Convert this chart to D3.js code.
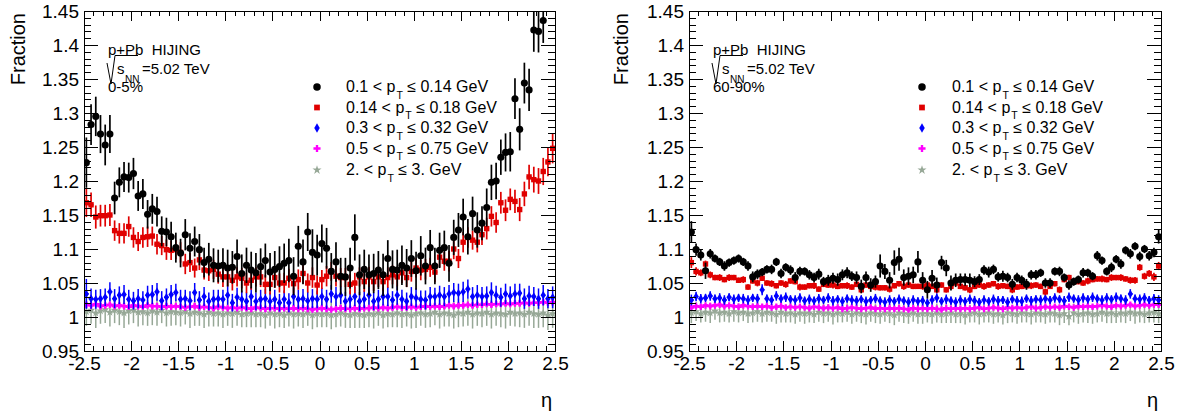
<!DOCTYPE html>
<html>
<head>
<meta charset="utf-8">
<script src="https://cdn.jsdelivr.net/npm/d3@7"></script>
<style>
  html, body { margin: 0; padding: 0; background: #fff; }
  svg { display: block; font-family: "Liberation Sans", Arial, Helvetica, sans-serif; }
  text { white-space: pre; }
</style>
</head>
<body>
<svg id="chart" width="1193" height="419"></svg>
<script>
// ---- binning and axis labels ----
const etaRange = [-2.5, 2.5];
const nBins = 100;
const fracRange = [0.95, 1.45];
const xTickValues = [-2.5, -2, -1.5, -1, -0.5, 0, 0.5, 1, 1.5, 2, 2.5];
const yTickValues = [0.95, 1, 1.05, 1.1, 1.15, 1.2, 1.25, 1.3, 1.35, 1.4, 1.45];
const ptLow = ["0.1", "0.14", "0.3", "0.5", "2."];
const ptHigh = ["0.14", "0.18", "0.32", "0.75", "3."];
const centralityLabels = ["0-5%", "60-90%"];

// ---- 0-5% centrality ----
const central_pt010 = [1.227,1.283,1.295,1.269,1.253,1.269,1.175,1.198,1.206,1.205,1.211,1.178,1.181,1.151,1.159,1.155,1.126,1.125,1.118,1.102,
1.094,1.121,1.101,1.111,1.099,1.080,1.085,1.076,1.075,1.076,1.072,1.073,1.089,1.064,1.076,1.069,1.065,1.074,1.083,1.066,
1.070,1.074,1.079,1.083,1.060,1.104,1.081,1.125,1.095,1.091,1.108,1.101,1.067,1.081,1.060,1.059,1.072,1.117,1.062,1.070,
1.062,1.064,1.069,1.062,1.086,1.070,1.069,1.076,1.072,1.086,1.068,1.090,1.075,1.102,1.075,1.098,1.102,1.079,1.117,1.128,
1.147,1.118,1.152,1.128,1.138,1.161,1.198,1.200,1.235,1.242,1.243,1.321,1.276,1.344,1.334,1.422,1.420,1.436,1.500,1.550];
const central_pt010_err = [0.037,0.030,0.029,0.028,0.030,0.028,0.024,0.022,0.022,0.022,0.023,0.022,0.022,0.021,0.022,0.022,0.022,0.021,0.022,0.022,
0.021,0.023,0.022,0.022,0.023,0.022,0.024,0.025,0.024,0.025,0.027,0.024,0.025,0.028,0.026,0.027,0.029,0.027,0.025,0.028,
0.027,0.030,0.029,0.032,0.028,0.030,0.033,0.028,0.034,0.030,0.028,0.030,0.027,0.029,0.027,0.028,0.030,0.034,0.030,0.029,
0.030,0.029,0.028,0.031,0.027,0.028,0.030,0.029,0.028,0.027,0.028,0.029,0.027,0.026,0.027,0.026,0.025,0.027,0.026,0.025,
0.027,0.026,0.025,0.026,0.025,0.028,0.026,0.027,0.026,0.028,0.029,0.030,0.031,0.030,0.031,0.032,0.031,0.033,0.035,0.038];

const central_pt014 = [1.168,1.165,1.147,1.149,1.149,1.150,1.127,1.123,1.123,1.133,1.117,1.111,1.117,1.118,1.119,1.107,1.105,1.099,1.098,1.099,
1.095,1.078,1.080,1.072,1.084,1.069,1.068,1.070,1.063,1.059,1.059,1.054,1.059,1.057,1.050,1.054,1.059,1.059,1.048,1.048,
1.058,1.050,1.050,1.057,1.049,1.055,1.064,1.050,1.058,1.047,1.055,1.060,1.067,1.060,1.058,1.058,1.048,1.050,1.059,1.052,
1.059,1.052,1.059,1.052,1.058,1.062,1.059,1.065,1.058,1.067,1.072,1.069,1.070,1.073,1.066,1.088,1.082,1.082,1.100,1.086,
1.110,1.117,1.113,1.110,1.121,1.130,1.148,1.139,1.168,1.157,1.173,1.170,1.158,1.181,1.206,1.202,1.200,1.214,1.228,1.248];
const central_pt014_err = [0.021,0.018,0.017,0.016,0.016,0.016,0.015,0.015,0.015,0.015,
0.015,0.014,0.015,0.015,0.014,0.015,0.014,0.015,0.014,0.014,0.015,0.015,0.014,0.014,0.015,0.014,0.015,0.014,0.014,0.015,
0.014,0.015,0.014,0.015,0.015,0.014,0.014,0.015,0.014,0.015,0.015,0.014,0.015,0.014,0.014,0.015,0.015,0.014,0.015,0.014,
0.014,0.015,0.014,0.015,0.014,0.014,0.015,0.015,0.014,0.015,0.015,0.014,0.015,0.014,0.015,0.014,0.014,0.015,0.014,0.015,
0.014,0.015,0.015,0.014,0.015,0.015,0.014,0.015,0.015,0.014,0.015,0.015,0.014,0.015,0.015,0.016,0.015,0.015,0.016,0.016,
0.016,0.017,0.017,0.018,0.018,0.019,0.019,0.020,0.021,0.022];

const central_pt030 = [1.034,1.027,1.026,1.027,1.029,1.037,1.027,1.032,1.033,1.026,1.024,1.027,1.025,1.032,1.033,1.037,1.024,1.029,1.033,1.036,
1.026,1.027,1.024,1.036,1.025,1.030,1.023,1.026,1.027,1.026,1.032,1.021,1.029,1.026,1.023,1.030,1.023,1.026,1.027,1.023,
1.026,1.021,1.026,1.021,1.030,1.026,1.027,1.024,1.027,1.026,1.030,1.026,1.034,1.030,1.032,1.023,1.026,1.030,1.023,1.026,
1.032,1.023,1.026,1.030,1.030,1.025,1.032,1.026,1.023,1.030,1.028,1.026,1.025,1.030,1.030,1.032,1.030,1.034,1.036,1.035,
1.037,1.041,1.030,1.032,1.030,1.031,1.036,1.032,1.029,1.034,1.031,1.034,1.035,1.027,1.031,1.030,1.027,1.032,1.027,1.029];
const central_pt030_err = [0.022,0.015,0.014,0.014,0.013,0.014,0.014,0.013,0.014,0.014,0.013,0.014,0.013,0.014,0.014,0.013,0.014,0.013,0.014,0.013,
0.014,0.013,0.014,0.014,0.013,0.014,0.013,0.014,0.013,0.014,0.014,0.013,0.014,0.013,0.013,0.014,0.013,0.014,0.014,0.013,
0.014,0.013,0.013,0.014,0.013,0.014,0.014,0.013,0.014,0.013,0.013,0.014,0.013,0.014,0.013,0.014,0.013,0.014,0.014,0.013,
0.014,0.013,0.014,0.013,0.014,0.013,0.014,0.014,0.013,0.014,0.014,0.013,0.014,0.014,0.013,0.014,0.014,0.013,0.014,0.014,
0.015,0.014,0.014,0.015,0.014,0.014,0.015,0.014,0.014,0.015,0.014,0.015,0.014,0.015,0.015,0.014,0.015,0.015,0.014,0.016];

const central_pt050 = [1.018,1.017,1.019,1.016,1.017,1.018,1.016,1.017,1.016,1.015,1.017,1.016,1.015,1.017,1.016,1.016,1.015,1.016,1.015,1.016,
1.015,1.014,1.015,1.016,1.014,1.015,1.014,1.013,1.015,1.014,1.013,1.014,1.013,1.014,1.013,1.012,1.014,1.013,1.012,1.013,
1.013,1.012,1.013,1.012,1.013,1.012,1.013,1.012,1.011,1.012,1.013,1.012,1.011,1.012,1.013,1.012,1.012,1.013,1.012,1.013,
1.013,1.014,1.013,1.014,1.013,1.014,1.015,1.014,1.014,1.015,1.014,1.015,1.016,1.015,1.016,1.015,1.016,1.017,1.016,1.017,
1.017,1.018,1.017,1.018,1.018,1.019,1.018,1.019,1.019,1.020,1.019,1.020,1.020,1.021,1.020,1.021,1.021,1.022,1.021,1.022];
const central_pt050_err = [0.004,0.004,0.003,0.004,0.004,0.004,0.003,0.004,0.004,0.004,0.004,0.003,0.004,0.004,0.004,0.004,0.003,0.004,0.004,0.003,
0.004,0.004,0.003,0.004,0.004,0.004,0.003,0.004,0.004,0.004,0.003,0.004,0.004,0.003,0.004,0.004,0.004,0.003,0.004,0.004,
0.004,0.003,0.004,0.004,0.004,0.003,0.004,0.004,0.003,0.004,0.004,0.004,0.003,0.004,0.004,0.003,0.004,0.004,0.004,0.003,
0.004,0.004,0.003,0.004,0.004,0.004,0.003,0.004,0.004,0.003,0.004,0.004,0.004,0.003,0.004,0.004,0.004,0.003,0.004,0.004,
0.004,0.003,0.004,0.004,0.004,0.003,0.004,0.004,0.004,0.004,0.003,0.004,0.004,0.004,0.004,0.003,0.004,0.004,0.004,0.005];

const central_pt200 = [1.008,1.010,1.006,1.009,1.011,1.007,1.010,1.008,1.006,1.009,1.010,1.007,1.008,1.006,1.009,1.007,1.010,1.006,1.008,1.007,
1.006,1.008,1.005,1.007,1.006,1.004,1.007,1.005,1.006,1.004,1.006,1.005,1.007,1.004,1.005,1.006,1.004,1.005,1.003,1.006,
1.004,1.005,1.003,1.006,1.004,1.005,1.004,1.006,1.003,1.005,1.004,1.005,1.003,1.004,1.006,1.004,1.003,1.005,1.004,1.003,
1.005,1.004,1.006,1.003,1.005,1.004,1.006,1.004,1.005,1.003,1.005,1.006,1.004,1.005,1.007,1.004,1.006,1.005,1.003,1.006,
1.005,1.007,1.004,1.006,1.005,1.007,1.004,1.006,1.005,1.004,1.007,1.005,1.006,1.004,1.007,1.005,1.004,1.006,1.003,1.005];
const central_pt200_err = [0.021,0.020,0.022,0.019,0.020,0.021,0.019,0.020,0.022,0.020,0.019,0.021,0.020,0.019,0.021,0.020,0.019,0.020,0.021,0.019,
0.020,0.019,0.021,0.020,0.019,0.020,0.021,0.019,0.020,0.020,0.019,0.021,0.020,0.019,0.020,0.021,0.019,0.020,0.020,0.019,
0.021,0.020,0.019,0.020,0.021,0.019,0.020,0.019,0.021,0.020,0.019,0.020,0.021,0.019,0.020,0.020,0.019,0.021,0.020,0.019,
0.020,0.021,0.019,0.020,0.020,0.019,0.021,0.020,0.019,0.020,0.021,0.019,0.020,0.020,0.019,0.021,0.020,0.019,0.020,0.021,
0.019,0.020,0.021,0.019,0.020,0.020,0.021,0.019,0.020,0.021,0.020,0.019,0.021,0.020,0.020,0.021,0.020,0.021,0.022,0.021];

// ---- 60-90% centrality ----
const periph_pt010 = [1.125,1.099,1.091,1.068,1.093,1.086,1.081,1.075,1.080,1.083,1.086,1.081,1.075,1.059,1.063,1.066,1.070,1.070,1.081,1.064,
1.073,1.069,1.058,1.067,1.067,1.062,1.058,1.063,1.052,1.054,1.057,1.055,1.062,1.065,1.060,1.058,1.045,1.058,1.047,1.052,
1.075,1.067,1.054,1.080,1.085,1.058,1.060,1.062,1.081,1.054,1.040,1.057,1.047,1.080,1.072,1.050,1.054,1.055,1.055,1.054,
1.052,1.055,1.069,1.066,1.070,1.059,1.060,1.058,1.048,1.058,1.054,1.048,1.062,1.062,1.065,1.050,1.050,1.067,1.067,1.058,
1.047,1.052,1.055,1.065,1.065,1.060,1.090,1.083,1.067,1.073,1.085,1.078,1.098,1.093,1.104,1.089,1.100,1.090,1.095,1.118];
const periph_pt010_err = [0.016,0.009,0.008,0.012,0.007,0.006,0.006,0.007,0.006,0.006,0.006,0.006,0.007,0.008,0.007,0.006,0.006,0.007,0.006,0.007,
0.006,0.007,0.008,0.007,0.006,0.007,0.007,0.008,0.007,0.008,0.008,0.009,0.008,0.008,0.007,0.009,0.010,0.009,0.010,0.009,
0.017,0.011,0.012,0.018,0.017,0.012,0.013,0.012,0.016,0.012,0.013,0.012,0.011,0.010,0.012,0.011,0.010,0.009,0.009,0.010,
0.008,0.008,0.007,0.008,0.007,0.007,0.008,0.007,0.008,0.007,0.007,0.008,0.007,0.007,0.006,0.007,0.007,0.006,0.007,0.006,
0.007,0.006,0.006,0.007,0.006,0.006,0.007,0.006,0.006,0.007,0.006,0.007,0.006,0.007,0.006,0.007,0.006,0.007,0.007,0.010];

const periph_pt014 = [1.080,1.067,1.065,1.078,1.062,1.058,1.058,1.055,1.058,1.058,1.054,1.055,1.044,1.053,1.050,1.057,1.050,1.049,1.046,1.050,
1.048,1.053,1.052,1.044,1.044,1.046,1.046,1.041,1.048,1.047,1.047,1.045,1.046,1.046,1.044,1.048,1.040,1.047,1.045,1.044,
1.043,1.043,1.041,1.046,1.049,1.045,1.047,1.045,1.045,1.045,1.047,1.045,1.040,1.047,1.040,1.045,1.050,1.045,1.043,1.040,
1.045,1.047,1.045,1.047,1.049,1.045,1.046,1.045,1.040,1.044,1.045,1.046,1.046,1.047,1.045,1.037,1.045,1.049,1.040,1.055,
1.058,1.052,1.052,1.050,1.053,1.055,1.056,1.056,1.055,1.058,1.058,1.058,1.056,1.054,1.054,1.073,1.060,1.064,1.059,1.075];
const periph_pt014_err = [0.008,0.006,0.005,0.005,0.005,0.004,0.005,0.004,0.005,0.004,0.004,0.005,0.004,0.004,0.005,0.004,0.004,0.005,0.004,0.004,
0.005,0.004,0.004,0.005,0.004,0.004,0.005,0.004,0.004,0.004,0.005,0.004,0.004,0.005,0.004,0.004,0.005,0.004,0.004,0.005,
0.004,0.004,0.005,0.004,0.004,0.005,0.004,0.004,0.004,0.005,0.004,0.004,0.005,0.004,0.004,0.005,0.004,0.004,0.004,0.005,
0.004,0.004,0.005,0.004,0.004,0.005,0.004,0.004,0.005,0.004,0.004,0.004,0.005,0.004,0.004,0.005,0.004,0.004,0.005,0.004,
0.004,0.005,0.004,0.004,0.005,0.004,0.004,0.005,0.004,0.005,0.004,0.005,0.004,0.005,0.005,0.005,0.005,0.005,0.006,0.006];

const periph_pt030 = [1.025,1.030,1.027,1.028,1.031,1.027,1.028,1.025,1.029,1.026,1.028,1.027,1.025,1.028,1.027,1.040,1.027,1.025,1.031,1.027,
1.029,1.026,1.025,1.028,1.024,1.026,1.024,1.027,1.025,1.028,1.024,1.026,1.023,1.027,1.025,1.024,1.026,1.023,1.025,1.027,
1.024,1.022,1.025,1.023,1.026,1.024,1.022,1.025,1.023,1.024,1.021,1.025,1.028,1.023,1.026,1.024,1.022,1.025,1.023,1.026,
1.024,1.022,1.025,1.023,1.026,1.024,1.025,1.022,1.026,1.024,1.023,1.027,1.024,1.026,1.025,1.027,1.025,1.028,1.026,1.024,
1.029,1.027,1.025,1.028,1.026,1.029,1.027,1.025,1.028,1.026,1.029,1.027,1.025,1.034,1.027,1.026,1.028,1.025,1.027,1.025];
const periph_pt030_err = [0.008,0.007,0.007,0.006,0.007,0.006,0.007,0.007,0.006,0.007,0.006,0.007,0.007,0.006,0.007,0.008,0.006,0.007,0.007,0.006,
0.007,0.006,0.007,0.007,0.006,0.007,0.006,0.007,0.006,0.007,0.007,0.006,0.007,0.006,0.007,0.007,0.006,0.007,0.006,0.007,
0.006,0.007,0.007,0.006,0.007,0.006,0.007,0.007,0.006,0.007,0.006,0.007,0.007,0.006,0.007,0.006,0.007,0.007,0.006,0.007,
0.007,0.006,0.007,0.006,0.007,0.007,0.006,0.007,0.006,0.007,0.007,0.006,0.007,0.006,0.007,0.007,0.006,0.007,0.006,0.007,
0.007,0.006,0.007,0.007,0.006,0.007,0.006,0.007,0.007,0.006,0.007,0.006,0.007,0.007,0.006,0.007,0.007,0.006,0.007,0.007];

const periph_pt050 = [1.014,1.016,1.015,1.017,1.016,1.017,1.018,1.016,1.017,1.016,1.015,1.017,1.016,1.015,1.016,1.015,1.016,1.014,1.015,1.016,
1.014,1.015,1.014,1.015,1.014,1.013,1.015,1.014,1.013,1.014,1.013,1.014,1.012,1.013,1.014,1.013,1.012,1.013,1.014,1.012,
1.013,1.012,1.013,1.012,1.013,1.012,1.011,1.013,1.012,1.013,1.012,1.013,1.012,1.011,1.013,1.012,1.013,1.012,1.013,1.012,
1.013,1.014,1.012,1.013,1.014,1.013,1.012,1.014,1.013,1.014,1.013,1.014,1.015,1.013,1.014,1.015,1.014,1.015,1.014,1.016,
1.015,1.014,1.016,1.015,1.016,1.015,1.016,1.017,1.016,1.015,1.017,1.016,1.017,1.018,1.016,1.017,1.018,1.017,1.018,1.018];
const periph_pt050_err = [0.003,0.003,0.003,0.002,0.003,0.003,0.003,0.003,0.002,0.003,0.003,0.003,0.002,0.003,0.003,0.003,0.003,0.002,0.003,0.003,
0.003,0.002,0.003,0.003,0.003,0.003,0.002,0.003,0.003,0.003,0.003,0.002,0.003,0.003,0.003,0.002,0.003,0.003,0.003,0.003,
0.002,0.003,0.003,0.003,0.003,0.002,0.003,0.003,0.003,0.002,0.003,0.003,0.003,0.003,0.002,0.003,0.003,0.003,0.002,0.003,
0.003,0.003,0.003,0.002,0.003,0.003,0.003,0.002,0.003,0.003,0.003,0.003,0.002,0.003,0.003,0.003,0.002,0.003,0.003,0.003,
0.003,0.002,0.003,0.003,0.003,0.003,0.002,0.003,0.003,0.003,0.002,0.003,0.003,0.003,0.003,0.002,0.003,0.003,0.003,0.003];

const periph_pt200 = [1.006,1.008,1.005,1.007,1.006,1.009,1.006,1.007,1.005,1.008,1.006,1.007,1.005,1.006,1.008,1.005,1.007,1.006,1.004,1.007,
1.005,1.006,1.004,1.006,1.005,1.006,1.004,1.007,1.005,1.006,1.004,1.006,1.005,1.007,1.004,1.006,1.005,1.004,1.006,1.005,
1.004,1.006,1.005,1.003,1.006,1.005,1.004,1.006,1.004,1.005,1.005,1.004,1.006,1.004,1.005,1.006,1.004,1.005,1.003,1.005,
1.006,1.004,1.005,1.006,1.004,1.005,1.003,1.006,1.005,1.004,1.006,1.005,1.004,1.006,1.005,1.004,1.006,1.005,1.003,1.005,
1.001,1.006,1.004,1.005,1.006,1.004,1.005,1.007,1.005,1.006,1.004,1.006,1.005,1.007,1.005,1.006,1.004,1.006,1.007,1.005];
const periph_pt200_err = [0.015,0.014,0.013,0.014,0.015,0.013,0.014,0.014,0.013,0.015,0.014,0.013,0.014,0.014,0.015,0.013,0.014,0.013,0.014,0.015,
0.013,0.014,0.014,0.013,0.015,0.014,0.013,0.014,0.014,0.013,0.015,0.014,0.013,0.014,0.014,0.013,0.014,0.015,0.013,0.014,
0.014,0.013,0.014,0.015,0.013,0.014,0.014,0.013,0.014,0.015,0.013,0.014,0.014,0.013,0.014,0.015,0.013,0.014,0.014,0.013,
0.014,0.015,0.013,0.014,0.014,0.013,0.014,0.015,0.013,0.014,0.014,0.013,0.015,0.014,0.013,0.014,0.014,0.013,0.015,0.014,
0.013,0.014,0.014,0.013,0.015,0.014,0.013,0.014,0.014,0.015,0.013,0.014,0.014,0.013,0.015,0.014,0.013,0.014,0.015,0.014];

// ---- drawing ----
const svg = d3.select("#chart");
const FONT = "'Liberation Sans', Arial, Helvetica, sans-serif";

// marker / colour per pT bin (same order as ptLow / ptHigh)
const styles = [
  { color: "#000000", symbol: d3.symbolCircle,  size: 40, lw: 1.7 },
  { color: "#e00000", symbol: d3.symbolSquare,  size: 29, lw: 1.7 },
  { color: "#0000ff", symbol: d3.symbolDiamond, size: 22, lw: 1.5 },
  { color: "#ff00ff", symbol: d3.symbolCross,   size: 24, lw: 2.4 },
  { color: "#97a897", symbol: d3.symbolStar,    size: 22, lw: 1.5 }
];

const panels = [
  { left: 84, right: 555, top: 11, bottom: 351, titleX: 25, noteX: 108, legMarkX: 317, legTextX: 346, etaX: 552,
    centrality: centralityLabels[0],
    values: [central_pt010, central_pt014, central_pt030, central_pt050, central_pt200],
    errors: [central_pt010_err, central_pt014_err, central_pt030_err, central_pt050_err, central_pt200_err] },
  { left: 689, right: 1161, top: 11, bottom: 351, titleX: 628, noteX: 713, legMarkX: 922, legTextX: 952, etaX: 1158,
    centrality: centralityLabels[1],
    values: [periph_pt010, periph_pt014, periph_pt030, periph_pt050, periph_pt200],
    errors: [periph_pt010_err, periph_pt014_err, periph_pt030_err, periph_pt050_err, periph_pt200_err] }
];

const binWidth = (etaRange[1] - etaRange[0]) / nBins;
const binCenters = d3.range(nBins).map(i => etaRange[0] + (i + 0.5) * binWidth);
const xMinor = d3.range(0, 51).map(i => etaRange[0] + i * 0.1);
const yMinor = d3.range(0, 51).map(i => fracRange[0] + i * 0.01);
const fmt = d => d3.format(".2~f")(d).replace("\u2212", "-");

panels.forEach((p, pi) => {
  const x = d3.scaleLinear().domain(etaRange).range([p.left, p.right]);
  const y = d3.scaleLinear().domain(fracRange).range([p.bottom, p.top]);
  const g = svg.append("g");

  const clipId = "plotclip" + pi;
  g.append("clipPath").attr("id", clipId)
    .append("rect").attr("x", p.left).attr("y", p.top)
    .attr("width", p.right - p.left).attr("height", p.bottom - p.top);

  // data: draw from the highest pT bin up so the low-pT points sit on top
  const plot = g.append("g").attr("clip-path", `url(#${clipId})`);
  d3.range(p.values.length).reverse().forEach(si => {
    const st = styles[si];
    const pts = p.values[si].map((v, i) => ({ eta: binCenters[i], v, e: p.errors[si][i] }));
    const sg = plot.append("g");
    sg.selectAll("line.ey").data(pts).join("line").attr("class", "ey")
      .attr("x1", d => x(d.eta)).attr("x2", d => x(d.eta))
      .attr("y1", d => y(d.v - d.e)).attr("y2", d => y(d.v + d.e))
      .attr("stroke", st.color).attr("stroke-width", st.lw);
    sg.selectAll("line.ex").data(pts).join("line").attr("class", "ex")
      .attr("x1", d => x(d.eta - binWidth / 2)).attr("x2", d => x(d.eta + binWidth / 2))
      .attr("y1", d => y(d.v)).attr("y2", d => y(d.v))
      .attr("stroke", st.color).attr("stroke-width", st.lw);
    sg.selectAll("path").data(pts).join("path")
      .attr("d", d3.symbol(st.symbol, st.size))
      .attr("transform", d => `translate(${x(d.eta)},${y(d.v)})`)
      .attr("fill", st.color);
  });

  // axes: ticks on all four sides, labels only bottom / left
  const axes = g.append("g").attr("shape-rendering", "crispEdges");
  const strip = sel => sel.call(s => s.select(".domain").remove());
  axes.append("g").attr("transform", `translate(0,${p.bottom})`)
    .call(d3.axisBottom(x).tickValues(xMinor).tickSize(-5).tickFormat("")).call(strip);
  axes.append("g").attr("transform", `translate(0,${p.bottom})`)
    .call(d3.axisBottom(x).tickValues(xTickValues).tickSize(-10).tickPadding(6).tickFormat(fmt)).call(strip);
  axes.append("g").attr("transform", `translate(0,${p.top})`)
    .call(d3.axisTop(x).tickValues(xMinor).tickSize(-5).tickFormat("")).call(strip);
  axes.append("g").attr("transform", `translate(0,${p.top})`)
    .call(d3.axisTop(x).tickValues(xTickValues).tickSize(-10).tickFormat("")).call(strip);
  axes.append("g").attr("transform", `translate(${p.left},0)`)
    .call(d3.axisLeft(y).tickValues(yMinor).tickSize(-7).tickFormat("")).call(strip);
  axes.append("g").attr("transform", `translate(${p.left},0)`)
    .call(d3.axisLeft(y).tickValues(yTickValues).tickSize(-14).tickPadding(5).tickFormat(fmt)).call(strip);
  axes.append("g").attr("transform", `translate(${p.right},0)`)
    .call(d3.axisRight(y).tickValues(yMinor).tickSize(-7).tickFormat("")).call(strip);
  axes.append("g").attr("transform", `translate(${p.right},0)`)
    .call(d3.axisRight(y).tickValues(yTickValues).tickSize(-14).tickFormat("")).call(strip);
  axes.selectAll("text").attr("font-size", 19).attr("font-family", FONT).attr("fill", "#000");
  axes.selectAll("line").attr("stroke", "#000");

  g.append("rect").attr("x", p.left).attr("y", p.top)
    .attr("width", p.right - p.left).attr("height", p.bottom - p.top)
    .attr("fill", "none").attr("stroke", "#000").attr("stroke-width", 1)
    .attr("shape-rendering", "crispEdges");

  // axis titles
  g.append("text").attr("transform", `translate(${p.titleX},13) rotate(-90)`)
    .attr("text-anchor", "end").attr("font-size", 20).text("Fraction");
  g.append("text").attr("x", p.etaX).attr("y", 407)
    .attr("text-anchor", "end").attr("font-size", 20).text("\u03b7");

  // system / energy / centrality note
  const nx = p.noteX;
  g.append("text").attr("x", nx).attr("y", 54.5).attr("font-size", 15).text("p+Pb  HIJING");
  g.append("path")
    .attr("d", `M${nx - 1},63 L${nx + 3},84 L${nx + 7},55.5 L${nx + 30},55.5`)
    .attr("fill", "none").attr("stroke", "#000").attr("stroke-width", 1);
  g.append("text").attr("x", nx + 9).attr("y", 74).attr("font-size", 15).text("s");
  g.append("text").attr("x", nx + 17).attr("y", 82.5).attr("font-size", 10).text("NN");
  g.append("text").attr("x", nx + 34).attr("y", 74).attr("font-size", 15).text("=5.02 TeV");
  g.append("text").attr("x", nx).attr("y", 91.5).attr("font-size", 15).text(p.centrality);

  // legend
  const rowBase = [92, 112.5, 133, 153.5, 175];
  styles.forEach((st, si) => {
    g.append("path").attr("d", d3.symbol(st.symbol, st.size + 4))
      .attr("transform", `translate(${p.legMarkX},${rowBase[si] - 5})`)
      .attr("fill", st.color);
    const t = g.append("text").attr("x", p.legTextX).attr("y", rowBase[si]).attr("font-size", 16);
    t.append("tspan").text(`${ptLow[si]} < p`);
    t.append("tspan").attr("dy", 6.5).attr("dx", 1).attr("font-size", 10.5).text("T");
    t.append("tspan").attr("dy", -6.5).text(` \u2264 ${ptHigh[si]} GeV`);
  });
});
</script>
</body>
</html>
